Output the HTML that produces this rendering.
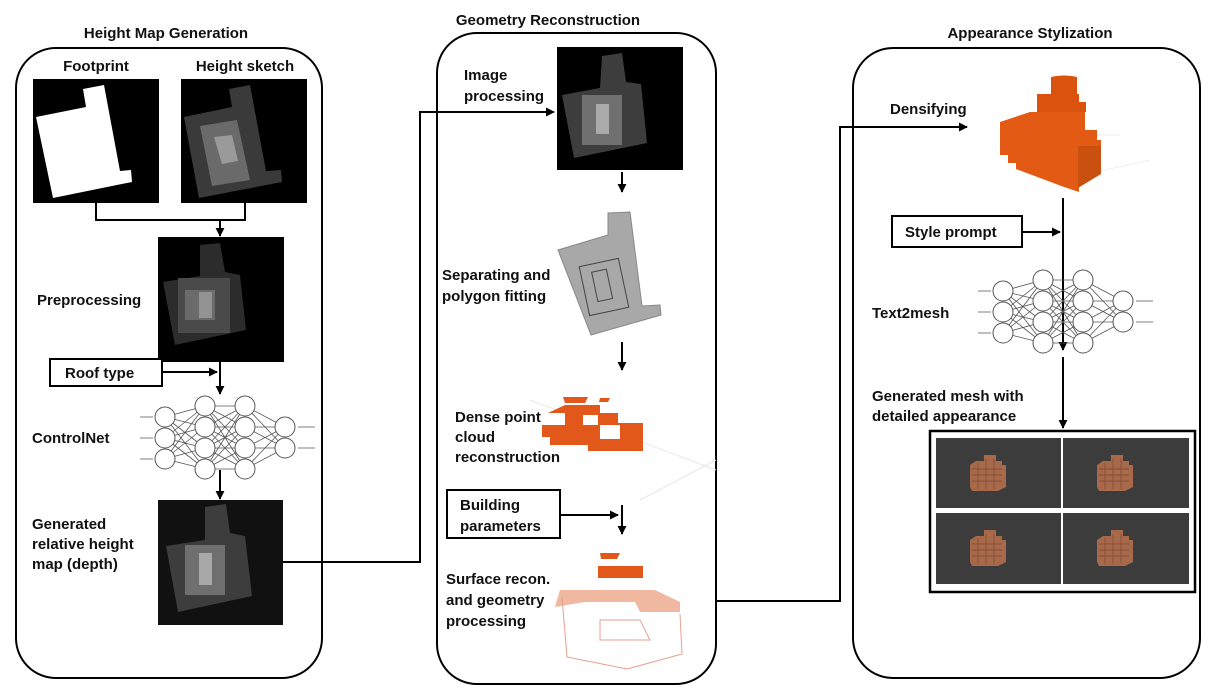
<!DOCTYPE html>
<html><head><meta charset="utf-8"><style>
html,body{margin:0;padding:0;background:#fff}
svg{display:block}
text{font-family:"Liberation Sans",sans-serif;font-size:15px;font-weight:bold;fill:#111}
</style></head><body>
<svg width="1214" height="698" viewBox="0 0 1214 698" xmlns="http://www.w3.org/2000/svg">
<defs>
<marker id="a" viewBox="0 0 10 10" refX="9" refY="5" markerWidth="4.5" markerHeight="4.5" orient="auto"><path d="M0,0L10,5L0,10z" fill="#000"/></marker>
<g id="nn">
 <g stroke="#555" stroke-width="0.8">
  <path d="M0,21L40,10M0,21L40,31M0,21L40,52M0,21L40,73M0,42L40,10M0,42L40,31M0,42L40,52M0,42L40,73M0,63L40,10M0,63L40,31M0,63L40,52M0,63L40,73"/>
  <path d="M40,10L80,10M40,10L80,31M40,10L80,52M40,10L80,73M40,31L80,10M40,31L80,31M40,31L80,52M40,31L80,73M40,52L80,10M40,52L80,31M40,52L80,52M40,52L80,73M40,73L80,10M40,73L80,31M40,73L80,52M40,73L80,73"/>
  <path d="M80,10L120,31M80,10L120,52M80,31L120,31M80,31L120,52M80,52L120,31M80,52L120,52M80,73L120,31M80,73L120,52"/>
  <path d="M-25,21h13M-25,42h13M-25,63h13M133,31h17M133,52h17"/>
 </g>
 <g fill="#fff" stroke="#555" stroke-width="1">
  <circle cx="0" cy="21" r="10"/><circle cx="0" cy="42" r="10"/><circle cx="0" cy="63" r="10"/>
  <circle cx="40" cy="10" r="10"/><circle cx="40" cy="31" r="10"/><circle cx="40" cy="52" r="10"/><circle cx="40" cy="73" r="10"/>
  <circle cx="80" cy="10" r="10"/><circle cx="80" cy="31" r="10"/><circle cx="80" cy="52" r="10"/><circle cx="80" cy="73" r="10"/>
  <circle cx="120" cy="31" r="10"/><circle cx="120" cy="52" r="10"/>
 </g>
</g>
<g id="bld">
 <path d="M0,14l6,-4h8v-6h12v6h6v4h4v22l-8,4h-26l-2,-4z" fill="#a8684a"/>
 <path d="M2,18h30M2,24h30M2,30h30M8,12v26M16,8v30M24,8v30" stroke="#7a4a35" stroke-width="0.7"/>
</g>
</defs>

<!-- panels -->
<rect x="16" y="48" width="306" height="630" rx="40" fill="none" stroke="#000" stroke-width="2"/>
<rect x="437" y="33" width="279" height="651" rx="40" fill="none" stroke="#000" stroke-width="2"/>
<rect x="853" y="48" width="347" height="630" rx="40" fill="none" stroke="#000" stroke-width="2"/>
<text x="166" y="38" text-anchor="middle">Height Map Generation</text>
<text x="548" y="25" text-anchor="middle">Geometry Reconstruction</text>
<text x="1030" y="38" text-anchor="middle">Appearance Stylization</text>

<!-- Left panel -->
<text x="96" y="71" text-anchor="middle">Footprint</text>
<text x="245" y="71" text-anchor="middle">Height sketch</text>
<rect x="33" y="79" width="126" height="124" fill="#000"/>
<polygon points="83,89 104,85 120,171 131,170 132,182 53,198 36,117 86,107" fill="#fff"/>
<rect x="181" y="79" width="126" height="124" fill="#000"/>
<polygon points="229,89 250,85 266,171 281,170 282,182 199,198 184,117 232,107" fill="#3a3a3a"/>
<polygon points="200,126 237,120 250,180 212,186" fill="#6a6a6a"/>
<polygon points="214,137 232,135 238,161 222,164" fill="#9a9a9a"/>
<path d="M96,203V220H245V203" fill="none" stroke="#000" stroke-width="2"/>
<path d="M220,220V236" stroke="#000" stroke-width="2" marker-end="url(#a)"/>
<rect x="158" y="237" width="126" height="125" fill="#000"/>
<polygon points="200,245 220,243 225,272 240,275 246,330 175,345 163,282 200,276" fill="#2c2c2c"/>
<rect x="178" y="278" width="52" height="55" fill="#4a4a4a"/>
<rect x="185" y="290" width="30" height="30" fill="#6b6b6b"/>
<rect x="199" y="292" width="13" height="26" fill="#939393"/>
<text x="37" y="305">Preprocessing</text>
<rect x="50" y="359" width="112" height="27" fill="#fff" stroke="#000" stroke-width="2"/>
<text x="65" y="378">Roof type</text>
<path d="M162,372H217" stroke="#000" stroke-width="2" marker-end="url(#a)"/>
<path d="M220,362V394" stroke="#000" stroke-width="2" marker-end="url(#a)"/>
<use href="#nn" x="165" y="396"/>
<text x="32" y="443">ControlNet</text>
<path d="M220,470V499" stroke="#000" stroke-width="2" marker-end="url(#a)"/>
<rect x="158" y="500" width="125" height="125" fill="#111"/>
<polygon points="205,507 226,504 230,533 245,536 252,596 178,612 166,546 205,540" fill="#3d3d3d"/>
<rect x="185" y="545" width="40" height="50" fill="#6f6f6f"/>
<rect x="199" y="553" width="13" height="32" fill="#a8a8a8"/>
<text x="32" y="529">Generated</text>
<text x="32" y="549">relative height</text>
<text x="32" y="569">map (depth)</text>
<path d="M283,562H420V112H554" fill="none" stroke="#000" stroke-width="2" marker-end="url(#a)"/>

<!-- Middle panel -->
<text x="464" y="80">Image</text>
<text x="464" y="101">processing</text>
<rect x="557" y="47" width="126" height="123" fill="#000"/>
<polygon points="602,56 622,53 626,82 641,84 647,143 574,158 562,95 600,88" fill="#3d3d3d"/>
<rect x="582" y="95" width="40" height="50" fill="#707070"/>
<rect x="596" y="104" width="13" height="30" fill="#aaa"/>
<path d="M622,172V192" stroke="#000" stroke-width="2" marker-end="url(#a)"/>
<polygon points="608,213 630,212 642,306 660,305 661,315 591,335 558,250 608,235" fill="#a8a8a8" stroke="#888"/>
<rect x="584" y="262" width="40" height="50" fill="none" stroke="#444" transform="rotate(-12 604 287)"/>
<rect x="595" y="270" width="15" height="30" fill="none" stroke="#444" transform="rotate(-12 604 287)"/>
<text x="442" y="280">Separating and</text>
<text x="442" y="301">polygon fitting</text>
<path d="M622,342V370" stroke="#000" stroke-width="2" marker-end="url(#a)"/>
<path d="M530,400L716,470M640,500L716,460" stroke="#e8e8e8"/>
<path d="M563,397h25l-3,6h-20zM600,398h10l-2,4h-9z" fill="#e2581a"/>
<path d="M565,405h35v8h18v10h25v28h-55v-6h-38v-8h-8v-12h23v-12h-17z" fill="#e2581a"/>
<path d="M583,415h15v10h-15z" fill="#fff"/>
<path d="M600,425h20v14h-20z" fill="#fff"/>
<text x="455" y="422">Dense point</text>
<text x="455" y="442">cloud</text>
<text x="455" y="462">reconstruction</text>
<rect x="447" y="490" width="113" height="48" fill="#fff" stroke="#000" stroke-width="2"/>
<text x="460" y="510">Building</text>
<text x="460" y="531">parameters</text>
<path d="M560,515H618" stroke="#000" stroke-width="2" marker-end="url(#a)"/>
<path d="M622,505V534" stroke="#000" stroke-width="2" marker-end="url(#a)"/>
<path d="M600,553h20l-3,6h-16z" fill="#e2581a"/>
<path d="M598,566h45v12h-45z" fill="#e2581a"/>
<path d="M560,590h95l25,12v10h-40l-5,-10h-50l-30,5z" fill="#f0b8a0"/>
<path d="M562,597l5,60l60,12l55,-15l-2,-40M600,620h40l10,20h-50z" fill="none" stroke="#e4a090" stroke-width="1"/>
<text x="446" y="584">Surface recon.</text>
<text x="446" y="605">and geometry</text>
<text x="446" y="626">processing</text>
<path d="M716,601H840V127H967" fill="none" stroke="#000" stroke-width="2" marker-end="url(#a)"/>

<!-- Right panel -->
<text x="890" y="114">Densifying</text>
<path d="M1000,135L1120,135M1060,180L1150,160" stroke="#eee"/>
<path d="M1051,77c8,-2 18,-2 26,0v18h-26z" fill="#d9530f"/>
<path d="M1037,94h42v8h7v10h-49z" fill="#d9530f"/>
<path d="M1000,122l30,-10h55v18h12v10h4v7h-22v45l-15,-5l-48,-18v-6h-8v-8h-8z" fill="#e25a14"/>
<path d="M1078,146h23v28l-23,14z" fill="#c9500f"/>
<path d="M1063,198V350" stroke="#000" stroke-width="2" marker-end="url(#a)"/>
<rect x="892" y="216" width="130" height="31" fill="#fff" stroke="#000" stroke-width="2"/>
<text x="905" y="237">Style prompt</text>
<path d="M1022,232H1060" stroke="#000" stroke-width="2" marker-end="url(#a)"/>
<use href="#nn" x="1003" y="270"/>
<text x="872" y="318">Text2mesh</text>
<path d="M1063,357V428" stroke="#000" stroke-width="2" marker-end="url(#a)"/>
<text x="872" y="401">Generated mesh with</text>
<text x="872" y="421">detailed appearance</text>
<rect x="930" y="431" width="265" height="161" fill="#fff" stroke="#000" stroke-width="2.5"/>
<rect x="936" y="438" width="125" height="70" fill="#3c3c3c"/>
<rect x="1063" y="438" width="126" height="70" fill="#3c3c3c"/>
<rect x="936" y="513" width="125" height="71" fill="#3c3c3c"/>
<rect x="1063" y="513" width="126" height="71" fill="#3c3c3c"/>
<use href="#bld" x="970" y="451"/>
<use href="#bld" x="1097" y="451"/>
<use href="#bld" x="970" y="526"/>
<use href="#bld" x="1097" y="526"/>
</svg>
</body></html>
